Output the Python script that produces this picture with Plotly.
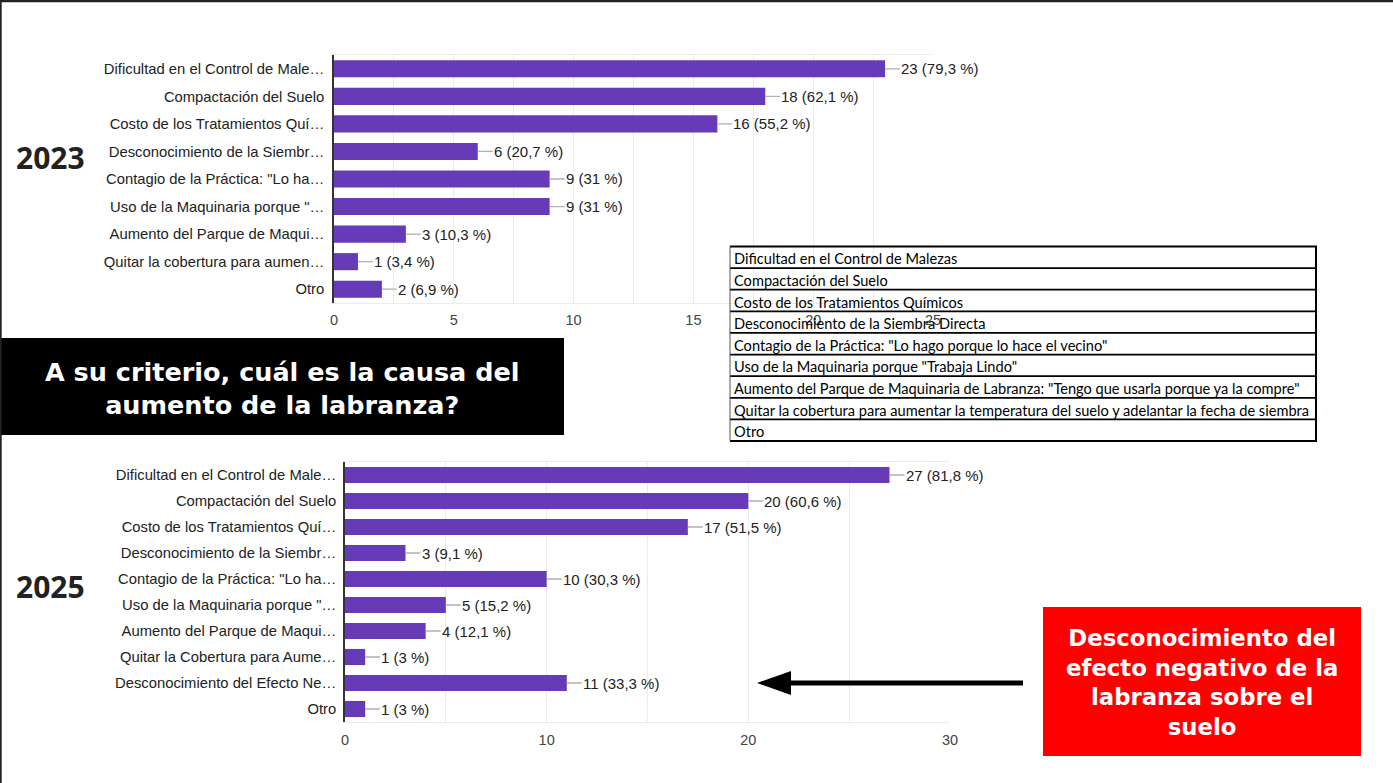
import plotly.graph_objects as go

W, H = 1393, 783

# ---------------- data ----------------
labels_2023 = [
    "Dificultad en el Control de Male…",
    "Compactación del Suelo",
    "Costo de los Tratamientos Quí…",
    "Desconocimiento de la Siembr…",
    "Contagio de la Práctica: \"Lo ha…",
    "Uso de la Maquinaria porque \"…",
    "Aumento del Parque de Maqui…",
    "Quitar la cobertura para aumen…",
    "Otro",
]
counts_2023 = [23, 18, 16, 6, 9, 9, 3, 1, 2]
pct_2023 = [79.3, 62.1, 55.2, 20.7, 31, 31, 10.3, 3.4, 6.9]

labels_2025 = [
    "Dificultad en el Control de Male…",
    "Compactación del Suelo",
    "Costo de los Tratamientos Quí…",
    "Desconocimiento de la Siembr…",
    "Contagio de la Práctica: \"Lo ha…",
    "Uso de la Maquinaria porque \"…",
    "Aumento del Parque de Maqui…",
    "Quitar la Cobertura para Aume…",
    "Desconocimiento del Efecto Ne…",
    "Otro",
]
counts_2025 = [27, 20, 17, 3, 10, 5, 4, 1, 11, 1]
pct_2025 = [81.8, 60.6, 51.5, 9.1, 30.3, 15.2, 12.1, 3, 33.3, 3]

ticks_2023 = [0, 5, 10, 15, 20, 25]
ticks_2025 = [0, 10, 20, 30]

table_rows = [
    "Dificultad en el Control de Malezas",
    "Compactación del Suelo",
    "Costo de los Tratamientos Químicos",
    "Desconocimiento de la Siembra Directa",
    "Contagio de la Práctica: \"Lo hago porque lo hace el vecino\"",
    "Uso de la Maquinaria porque \"Trabaja Lindo\"",
    "Aumento del Parque de Maquinaria de Labranza: \"Tengo que usarla porque ya la compre\"",
    "Quitar la cobertura para aumentar la temperatura del suelo y adelantar la fecha de siembra",
    "Otro",
]

title_text = "A su criterio, cuál es la causa del<br>aumento de la labranza?"
callout_text = "Desconocimiento del<br>efecto negativo de la<br>labranza sobre el<br>suelo"

# ---------------- helpers ----------------
def X(p):
    return p / W

def Y(p):
    return 1 - p / H

PURPLE = "#673AB7"
AXFONT = "Liberation Sans, Arial, sans-serif"
SLIDEFONT = "DejaVu Sans, sans-serif"
YEARFONT = "Open Sans, sans-serif"

fig = go.Figure()
fig.add_trace(go.Bar(x=counts_2023, y=list(range(len(labels_2023))), orientation="h",
                     marker=dict(color=PURPLE, line=dict(width=0)),
                     xaxis="x", yaxis="y", hoverinfo="skip"))
fig.add_trace(go.Bar(x=counts_2025, y=list(range(len(labels_2025))), orientation="h",
                     marker=dict(color=PURPLE, line=dict(width=0)),
                     xaxis="x2", yaxis="y2", hoverinfo="skip"))

def fmt(c, p):
    return f"{c} ({p:g} %)".replace(".", ",")

annotations = []
for xr, yr, labs, cs, ps in (("x", "y", labels_2023, counts_2023, pct_2023),
                             ("x2", "y2", labels_2025, counts_2025, pct_2025)):
    for i, (c, p) in enumerate(zip(cs, ps)):
        annotations.append(dict(
            x=c, y=i, xref=xr, yref=yr, text=fmt(c, p),
            showarrow=True, arrowhead=0, arrowwidth=1.3, arrowcolor="#b0b0b0",
            ax=15, ay=0, xanchor="left", standoff=0, borderpad=0,
            font=dict(family=AXFONT, size=15, color="#222222")))

# year labels
annotations.append(dict(x=X(14), y=Y(157), xref="paper", yref="paper", text="<b>2023</b>",
                        showarrow=False, xanchor="left", yanchor="middle",
                        font=dict(family=YEARFONT, size=30, color="#222222")))
annotations.append(dict(x=X(14), y=Y(586), xref="paper", yref="paper", text="<b>2025</b>",
                        showarrow=False, xanchor="left", yanchor="middle",
                        font=dict(family=YEARFONT, size=30, color="#222222")))
# title box text
annotations.append(dict(x=X(282), y=Y(388), xref="paper", yref="paper", text="<b>" + title_text + "</b>",
                        showarrow=False, xanchor="center", yanchor="middle", align="center",
                        font=dict(family=SLIDEFONT, size=25.5, color="white")))
# red callout text
annotations.append(dict(x=X(1202), y=Y(682), xref="paper", yref="paper", text="<b>" + callout_text + "</b>",
                        showarrow=False, xanchor="center", yanchor="middle", align="center",
                        font=dict(family=SLIDEFONT, size=22.8, color="white")))

# table
T_X0, T_X1, T_Y0, T_Y1 = 730, 1316, 246.5, 441
rh = (T_Y1 - T_Y0) / len(table_rows)
shapes = []
shapes.append(dict(type="rect", xref="paper", yref="paper", x0=X(T_X0), x1=X(T_X1), y0=Y(T_Y1), y1=Y(T_Y0),
                   fillcolor="white", line=dict(width=0), layer="below"))
for i, row in enumerate(table_rows):
    top = T_Y0 + i * rh
    annotations.append(dict(x=X(T_X0 + 2), y=Y(top + rh / 2 + 1.5), xref="paper", yref="paper",
                            text=row, showarrow=False, xanchor="left", yanchor="middle",
                            font=dict(family="Lato, sans-serif", size=14.6, color="black")))
for i in range(len(table_rows) + 1):
    yy = T_Y0 + i * rh
    shapes.append(dict(type="line", xref="paper", yref="paper", x0=X(T_X0), x1=X(T_X1 + 1),
                       y0=Y(yy), y1=Y(yy), line=dict(color="black", width=1.8), layer="above"))
shapes.append(dict(type="line", xref="paper", yref="paper", x0=X(T_X0), x1=X(T_X0),
                   y0=Y(T_Y0), y1=Y(T_Y1), line=dict(color="#555555", width=1), layer="above"))
shapes.append(dict(type="line", xref="paper", yref="paper", x0=X(T_X1), x1=X(T_X1),
                   y0=Y(T_Y0), y1=Y(T_Y1), line=dict(color="black", width=2), layer="above"))

# black title box
shapes.append(dict(type="rect", xref="paper", yref="paper", x0=X(0), x1=X(564), y0=Y(435), y1=Y(338),
                   fillcolor="black", line=dict(width=0), layer="above"))
# red callout box
shapes.append(dict(type="rect", xref="paper", yref="paper", x0=X(1043), x1=X(1361), y0=Y(756), y1=Y(607),
                   fillcolor="#FF0000", line=dict(width=0), layer="above"))
# arrow
shapes.append(dict(type="line", xref="paper", yref="paper", x0=X(785), x1=X(1023), y0=Y(683), y1=Y(683),
                   line=dict(color="black", width=5), layer="above"))
shapes.append(dict(type="path", xref="paper", yref="paper",
                   path=f"M {X(757)},{Y(683)} L {X(791)},{Y(671)} L {X(791)},{Y(695)} Z",
                   fillcolor="black", line=dict(color="black", width=0), layer="above"))
# page frame
shapes.append(dict(type="line", xref="paper", yref="paper", x0=0, x1=1, y0=Y(1), y1=Y(1),
                   line=dict(color="#222222", width=2.5), layer="above"))
shapes.append(dict(type="line", xref="paper", yref="paper", x0=X(0.8), x1=X(0.8), y0=0, y1=1,
                   line=dict(color="#222222", width=1.8), layer="above"))

GRID = "#ebebeb"
fig.update_layout(
    autosize=True, margin=dict(l=0, r=0, t=0, b=0, autoexpand=False),
    paper_bgcolor="white", plot_bgcolor="white",
    showlegend=False, bargap=0.38,
    xaxis=dict(domain=[X(334), X(933)], range=[0, 25], tickvals=ticks_2023,
               showgrid=True, gridcolor=GRID, gridwidth=1,
               minor=dict(dtick=2.5, showgrid=True, gridcolor=GRID),
               showline=True, linecolor=GRID, mirror=True, zeroline=False,
               ticks="", ticklabelstandoff=4,
               tickfont=dict(family=AXFONT, size=14.5, color="#444444"), anchor="y", fixedrange=True),
    yaxis=dict(domain=[Y(303), Y(55)], type="linear", zeroline=False,
               tickvals=list(range(len(labels_2023))), ticktext=labels_2023,
               range=[len(labels_2023) - 0.5, -0.5], showgrid=False, ticks="", ticklabelstandoff=5,
               showline=True, linecolor="#333333", linewidth=1.5,
               tickfont=dict(family=AXFONT, size=14.8, color="#222222"), anchor="x", fixedrange=True),
    xaxis2=dict(domain=[X(345), X(950)], range=[0, 30], tickvals=ticks_2025,
                showgrid=True, gridcolor=GRID, gridwidth=1,
                minor=dict(dtick=5, showgrid=True, gridcolor=GRID),
                showline=True, linecolor=GRID, mirror=True, zeroline=False,
                ticks="", ticklabelstandoff=5,
                tickfont=dict(family=AXFONT, size=14.5, color="#444444"), anchor="y2", fixedrange=True),
    yaxis2=dict(domain=[Y(722), Y(462)], type="linear", zeroline=False,
                tickvals=list(range(len(labels_2025))), ticktext=labels_2025,
                range=[len(labels_2025) - 0.5, -0.5], showgrid=False, ticks="", ticklabelstandoff=4,
                showline=True, linecolor="#333333", linewidth=1.5,
                tickfont=dict(family=AXFONT, size=14.8, color="#222222"), anchor="x2", fixedrange=True),
    annotations=annotations,
    shapes=shapes,
)

post = (
    "document.documentElement.style.margin='0';"
    "document.documentElement.style.overflow='hidden';"
    "document.body.style.margin='0';document.body.style.overflow='hidden';"
    "var gd=document.getElementById('{plot_id}');"
    "gd.style.width='100vw';gd.style.height='100vh';"
    "Plotly.Plots.resize(gd);"
)
fig.write_html("out.html", config={"displayModeBar": False, "responsive": True},
               default_width="100vw", default_height="100vh", post_script=post)
